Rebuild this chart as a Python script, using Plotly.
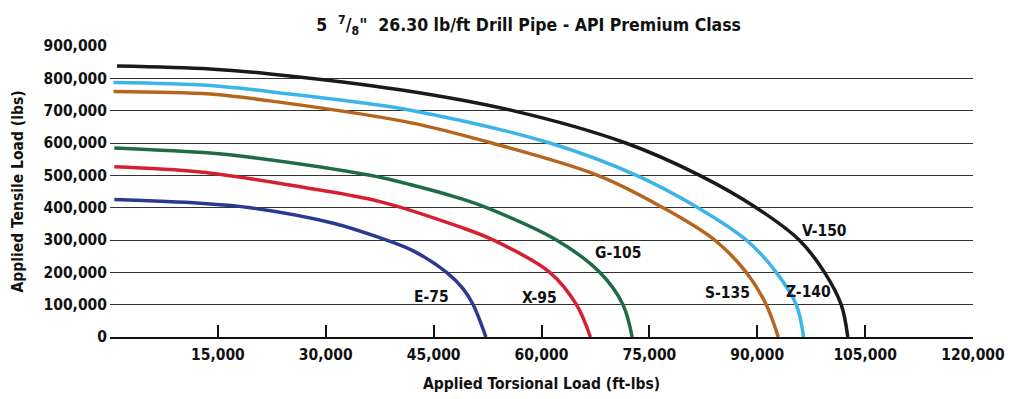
import plotly.graph_objects as go

# Applied torsional load (ft-lbs) / applied tensile load (lbs)
grades = ["E-75", "X-95", "G-105", "S-135", "Z-140", "V-150"]
colors = ["#2B3990", "#D71F32", "#1E6B46", "#B5651D", "#3BB4E8", "#1A1A1A"]

e75_torsion = [600, 12540, 19500, 31060, 37540, 42170, 46800, 49110, 50500, 52270]
e75_tensile = [425000, 413600, 400000, 352000, 306800, 266200, 200000, 149000, 100000, 0]

x95_torsion = [600, 12540, 26430, 37540, 48650, 53280, 61150, 64860, 66800]
x95_tensile = [526600, 510400, 464600, 418800, 340400, 300000, 200000, 100000, 0]

g105_torsion = [600, 13930, 19510, 36150, 41710, 48650, 52360, 62080, 68100, 71330, 72600]
g105_tensile = [584600, 569000, 556000, 500000, 471700, 428900, 400000, 300000, 200000, 100000, 0]

s135_torsion = [500, 13930, 22260, 41710, 53060, 67820, 76890, 84070, 88470, 91250, 92920]
s135_tensile = [759600, 751600, 730250, 663100, 600000, 500000, 400000, 300000, 200000, 100000, 0]

z140_torsion = [500, 13930, 22260, 33370, 42130, 61150, 73200, 81750, 88470, 92640, 95420, 96440]
z140_tensile = [787000, 777900, 758650, 729000, 700000, 600000, 500000, 400000, 300000, 200000, 100000, 0]

v150_torsion = [970, 13930, 22260, 40320, 56010, 71710, 81990, 89860, 95830, 99350, 101670, 102590]
v150_tensile = [838000, 828900, 813600, 764700, 700000, 600000, 500000, 400000, 300000, 200000, 100000, 0]

label_x = [44770, 59760, 70600, 85800, 97130, 99350]
label_y = [124500, 119500, 258500, 136800, 139000, 328400]

x_ticks = [0, 15000, 30000, 45000, 60000, 75000, 90000, 105000, 120000]
x_tick_text = ["", "15,000", "30,000", "45,000", "60,000", "75,000", "90,000", "105,000", "120,000"]
y_ticks = [0, 100000, 200000, 300000, 400000, 500000, 600000, 700000, 800000, 900000]
y_tick_text = ["0", "100,000", "200,000", "300,000", "400,000", "500,000", "600,000", "700,000", "800,000", "900,000"]

series = [
    (e75_torsion, e75_tensile),
    (x95_torsion, x95_tensile),
    (g105_torsion, g105_tensile),
    (s135_torsion, s135_tensile),
    (z140_torsion, z140_tensile),
    (v150_torsion, v150_tensile),
]

FONT = "DejaVu Sans Condensed, Liberation Sans Narrow, DejaVu Sans, sans-serif"

fig = go.Figure()
for name, color, (xs, ys) in zip(grades, colors, series):
    fig.add_trace(go.Scatter(
        x=xs, y=ys, mode="lines", name=name,
        line=dict(color=color, width=3.5, shape="spline", smoothing=1.0),
        showlegend=False,
    ))

for name, lx, ly in zip(grades, label_x, label_y):
    fig.add_annotation(x=lx, y=ly, text=name, showarrow=False,
                       font=dict(family=FONT, size=15.5, color="#111", weight="bold"))

fig.update_layout(
    width=1013, height=399,
    margin=dict(l=110, r=40, t=46, b=62, autoexpand=False),
    paper_bgcolor="white", plot_bgcolor="white",
    font=dict(family=FONT, size=15, color="#111", weight="bold"),
    title=dict(
        text='5  <sup>7</sup>/<sub>8</sub>"  26.30 lb/ft Drill Pipe - API Premium Class',
        x=0.485, xref="paper", xanchor="center", y=0.937, yref="container", yanchor="middle",
        font=dict(family=FONT, size=17.5, color="#111", weight="bold"),
    ),
    xaxis=dict(
        range=[0, 120000], tickvals=x_ticks, ticktext=x_tick_text,
        showgrid=False, zeroline=False, automargin=False,
        showline=True, linecolor="#111", linewidth=2,
        ticks="inside", ticklen=12, tickwidth=2, tickcolor="#111",
        ticklabelstandoff=2,
        tickfont=dict(family=FONT, size=15.5, color="#111", weight="bold"),
        title=dict(text="Applied Torsional Load (ft-lbs)", standoff=16,
                   font=dict(family=FONT, size=15.5, color="#111", weight="bold")),
        fixedrange=True,
    ),
    yaxis=dict(
        range=[0, 900000], tickvals=y_ticks, ticktext=y_tick_text,
        showgrid=True, gridcolor="#333", gridwidth=1, automargin=False,
        zeroline=False, showline=False, ticks="", ticklabelstandoff=2,
        tickfont=dict(family=FONT, size=15.5, color="#111", weight="bold"),
        title=dict(text="Applied Tensile Load (lbs)", standoff=16,
                   font=dict(family=FONT, size=15.5, color="#111", weight="bold")),
        fixedrange=True,
    ),
)

fig.write_html("out.html", config={"displayModeBar": False},
               post_script="document.body.style.margin='0';")
